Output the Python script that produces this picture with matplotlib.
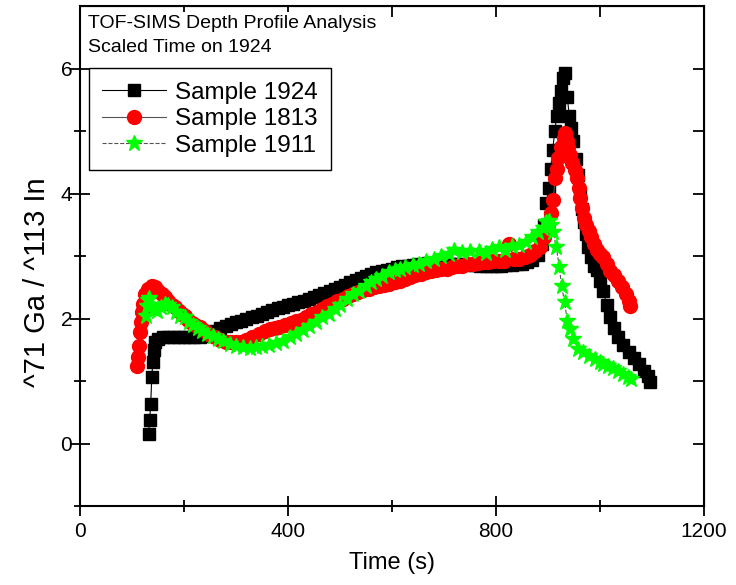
import matplotlib
matplotlib.use("Agg")
import matplotlib.pyplot as plt

plt.rcParams['font.family'] = ['Liberation Sans', 'DejaVu Sans']

# Sample 1924 (black squares)
t_1924 = [132, 134, 136, 138, 140, 142, 145, 150, 160, 170, 180, 190, 200, 210, 220,
          230, 240, 250, 260, 270, 280, 290, 300, 310, 320, 330, 340, 350, 360, 370,
          380, 390, 400, 410, 420, 430, 440, 450, 460, 470, 480, 490, 500, 510, 520,
          530, 540, 550, 560, 570, 580, 590, 600, 610, 620, 630, 640, 650, 660, 670,
          680, 690, 700, 710, 720, 730, 740, 750, 760, 770, 780, 790, 800, 810, 820,
          830, 840, 850, 860, 870, 880, 888, 893, 897, 901, 905, 909, 913, 917, 921,
          925, 929, 933, 937, 941, 945, 949, 953, 957, 961, 965, 969, 973, 977, 982,
          988, 994, 1000, 1006, 1013, 1020, 1027, 1035, 1045, 1055, 1065, 1075, 1085,
          1093, 1096]
r_1924 = [0.16, 0.38, 0.64, 1.06, 1.30, 1.50, 1.62, 1.68, 1.70, 1.71, 1.70, 1.70, 1.70,
          1.70, 1.70, 1.70, 1.72, 1.76, 1.80, 1.85, 1.89, 1.92, 1.94, 1.97, 2.00, 2.02,
          2.05, 2.08, 2.11, 2.14, 2.17, 2.19, 2.22, 2.24, 2.26, 2.29, 2.32, 2.35, 2.38,
          2.41, 2.44, 2.47, 2.50, 2.54, 2.58, 2.62, 2.65, 2.68, 2.71, 2.74, 2.76, 2.78,
          2.80, 2.82, 2.84, 2.85, 2.86, 2.87, 2.88, 2.89, 2.89, 2.89, 2.89, 2.88, 2.88,
          2.87, 2.87, 2.86, 2.86, 2.85, 2.85, 2.85, 2.85, 2.85, 2.86, 2.86, 2.87, 2.88,
          2.90, 2.94, 3.02, 3.20, 3.50, 3.85, 4.10, 4.40, 4.70, 5.00, 5.25, 5.45, 5.65,
          5.85, 5.93, 5.55, 5.25, 5.05, 4.85, 4.55, 4.30, 4.00, 3.75, 3.55, 3.35, 3.15,
          2.98, 2.85, 2.78, 2.60, 2.45, 2.22, 2.02, 1.85, 1.70, 1.58, 1.47, 1.37, 1.27,
          1.17, 1.08, 0.98]

# Sample 1813 (red circles)
t_1813 = [109, 111, 113, 115, 117, 119, 121, 125, 130, 138, 145, 150, 157, 163, 170,
          176, 182, 190, 196, 201, 208, 215, 222, 230, 240, 250, 259, 270, 280, 290,
          300, 310, 320, 330, 345, 355, 365, 375, 383, 395, 405, 415, 425, 435, 445,
          455, 465, 475, 485, 495, 505, 515, 525, 535, 545, 555, 565, 575, 585, 595,
          605, 615, 625, 635, 645, 655, 665, 675, 685, 695, 705, 715, 725, 735, 745,
          755, 765, 775, 785, 795, 805, 815, 825, 835, 845, 855, 865, 875, 885, 893,
          900, 905, 910, 914, 917, 920, 925, 930, 933, 937, 939, 943, 947, 951, 955,
          959, 962, 966, 970, 974, 978, 983, 989, 995, 1000, 1006, 1013, 1020, 1027,
          1035, 1043, 1050, 1055, 1058]
r_1813 = [1.25, 1.38, 1.57, 1.78, 1.94, 2.10, 2.24, 2.40, 2.48, 2.53, 2.50, 2.45, 2.40,
          2.34, 2.28, 2.22, 2.18, 2.12, 2.08, 2.05, 1.98, 1.93, 1.90, 1.86, 1.80, 1.74,
          1.70, 1.66, 1.63, 1.62, 1.62, 1.63, 1.66, 1.70, 1.76, 1.80, 1.83, 1.85, 1.87,
          1.90, 1.93, 1.96, 1.98, 2.02, 2.07, 2.11, 2.16, 2.20, 2.24, 2.28, 2.32, 2.36,
          2.40, 2.43, 2.46, 2.48, 2.50, 2.52, 2.54, 2.56, 2.58, 2.61, 2.64, 2.67, 2.70,
          2.72, 2.74, 2.76, 2.78, 2.79, 2.80, 2.82, 2.84, 2.85, 2.87, 2.88, 2.89, 2.90,
          2.91, 2.92, 2.92, 2.93, 3.20, 2.95, 2.96, 2.98, 3.02, 3.08, 3.14, 3.30, 3.50,
          3.70, 3.90, 4.26, 4.40, 4.58, 4.75, 4.90, 4.97, 4.85, 4.75, 4.62, 4.49, 4.38,
          4.26, 4.10, 3.94, 3.78, 3.62, 3.50, 3.41, 3.30, 3.20, 3.10, 3.04, 2.98, 2.88,
          2.77, 2.70, 2.61, 2.50, 2.40, 2.28, 2.20]

# Sample 1911 (green stars)
t_1911 = [126, 128, 130, 133, 137, 142, 148, 155, 163, 170, 177, 185, 193, 201, 210,
          218, 226, 235, 245, 255, 265, 275, 288, 300, 313, 326, 338, 350, 364, 376,
          390, 403, 415, 428, 441, 453, 466, 479, 490, 500, 514, 525, 537, 550, 560,
          570, 580, 594, 605, 615, 625, 640, 652, 665, 680, 695, 709, 720, 735, 750,
          767, 780, 792, 805, 818, 830, 845, 857, 870, 880, 891, 897, 901, 906, 910,
          916, 922, 926, 932, 937, 943, 949, 958, 968, 978, 990, 1000, 1006, 1015,
          1025, 1035, 1045, 1054, 1060]
r_1911 = [2.05, 2.20, 2.30, 2.33, 2.22, 2.15, 2.13, 2.18, 2.24, 2.22, 2.18, 2.10, 2.05,
          2.02, 1.95, 1.90, 1.85, 1.80, 1.76, 1.72, 1.68, 1.65, 1.60, 1.56, 1.54, 1.53,
          1.54, 1.56, 1.58, 1.61, 1.65, 1.70, 1.76, 1.82, 1.88, 1.95, 2.02, 2.08, 2.16,
          2.22, 2.32, 2.40, 2.45, 2.52, 2.58, 2.63, 2.68, 2.74, 2.78, 2.80, 2.83, 2.86,
          2.88, 2.92, 2.96, 3.00, 3.04, 3.10, 3.06, 3.08, 3.09, 3.05, 3.12, 3.14, 3.10,
          3.16, 3.18, 3.22, 3.30, 3.38, 3.46, 3.55, 3.57, 3.50, 3.38, 3.14, 2.82, 2.53,
          2.26, 1.97, 1.84, 1.68, 1.52, 1.46, 1.41, 1.35, 1.30, 1.28, 1.25, 1.21, 1.17,
          1.12, 1.06, 1.03]

fig = plt.figure(figsize=(7.36, 5.85), dpi=100)
ax = fig.add_axes([0.1087, 0.135, 0.8478, 0.854])

ax.plot(t_1924, r_1924, color='black', lw=0.8, marker='s', ms=8, mec='black',
        mfc='black', label='Sample 1924')
ax.plot(t_1813, r_1813, color='#555555', lw=0.8, marker='o', ms=10, mec='red',
        mfc='red', label='Sample 1813')
ax.plot(t_1911, r_1911, color='#555555', lw=0.8, ls='--', marker='*', ms=12,
        mec='#00ff00', mfc='#00ff00', label='Sample 1911')

ax.set_xlim(0, 1200)
ax.set_ylim(-1, 7)
ax.set_xticks([0, 400, 800, 1200])
ax.set_xticks([200, 600, 1000], minor=True)
ax.set_yticks([0, 2, 4, 6])
ax.set_yticks([-1, 1, 3, 5], minor=True)
ax.tick_params(which='major', direction='inout', length=15, width=1.3, labelsize=15)
ax.tick_params(which='minor', direction='inout', length=8, width=1.3)
ax.tick_params(axis='x', pad=4)
ax.tick_params(axis='y', pad=-2)
for s in ax.spines.values():
    s.set_linewidth(1.5)

top = ax.secondary_xaxis('top')
top.set_xticks([0, 200, 400, 600, 800, 1000, 1200])
top.tick_params(direction='in', length=8, width=1.3, labeltop=False)
right = ax.secondary_yaxis('right')
right.set_yticks([-1, 0, 1, 2, 3, 4, 5, 6, 7])
right.tick_params(direction='in', length=8, width=1.3, labelright=False)

ax.set_xlabel('Time (s)', fontsize=17, labelpad=8)
ax.set_ylabel('^71 Ga / ^113 In', fontsize=21)
ax.yaxis.set_label_coords(-0.046, 0.448)

leg = ax.legend(loc='upper left', bbox_to_anchor=(0.0144, 0.876), borderaxespad=0,
                fontsize=17.5, frameon=True, fancybox=False, edgecolor='black',
                framealpha=1, handlelength=2.6, borderpad=0.55, labelspacing=0.18,
                handletextpad=0.4)
leg.get_frame().set_linewidth(1.0)

# title block sits inside the frame, just under the top spine
fig.text(0.120, 0.975, 'TOF-SIMS Depth Profile Analysis\nScaled Time on 1924',
         ha='left', va='top', fontsize=14, linespacing=1.6,
         bbox=dict(facecolor='white', edgecolor='none', pad=2))

fig.savefig('out.png', dpi=100)
